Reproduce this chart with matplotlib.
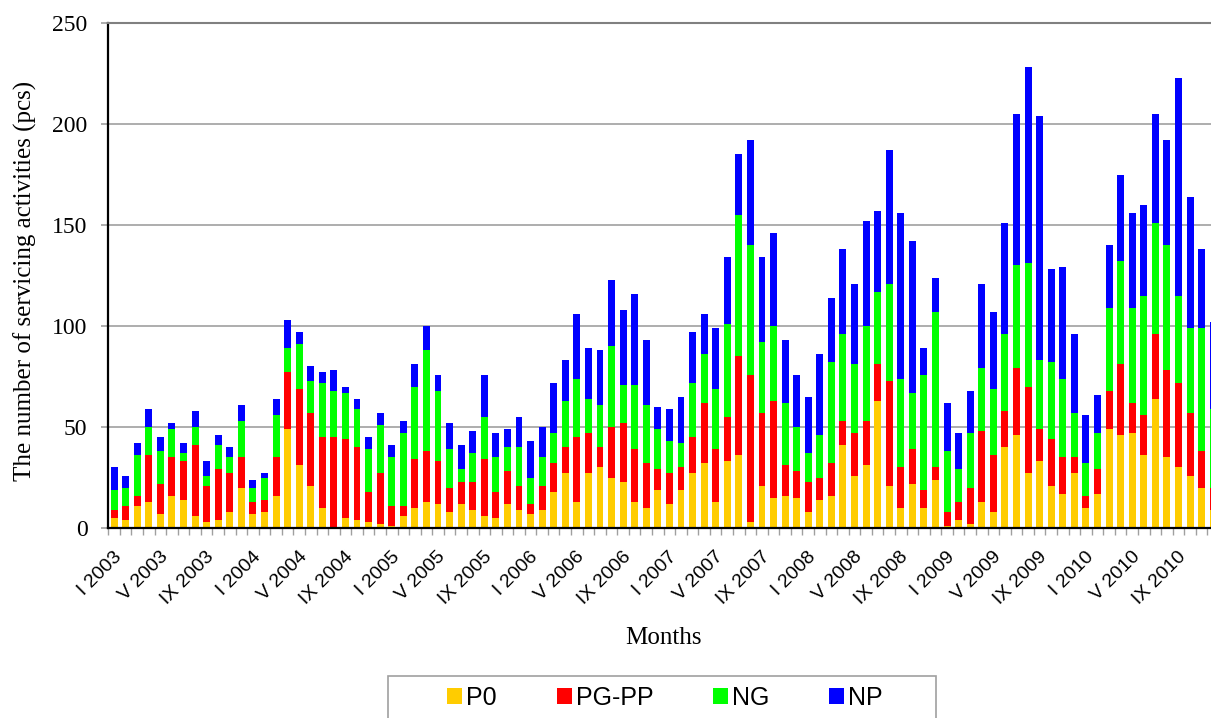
import matplotlib
matplotlib.use('Agg')
import matplotlib.pyplot as plt
from matplotlib.patches import Patch, Rectangle
from matplotlib.transforms import ScaledTranslation
import numpy as np

plt.rcParams['font.family'] = ['Liberation Serif', 'DejaVu Serif']

# ── data: monthly servicing activities, I 2003 .. XII 2010 ──
years = [2003, 2004, 2005, 2006, 2007, 2008, 2009, 2010]
roman = ['I', 'II', 'III', 'IV', 'V', 'VI', 'VII', 'VIII', 'IX', 'X', 'XI', 'XII']
month_labels = [f'{r} {y}' for y in years for r in roman]

p0 = [5, 4, 11, 13, 7, 16, 14, 6, 3, 4, 8, 20,
      7, 8, 16, 49, 31, 21, 10, 0, 5, 4, 3, 2,
      1, 6, 10, 13, 12, 8, 12, 9, 6, 5, 12, 9,
      7, 9, 18, 27, 13, 27, 30, 25, 23, 13, 10, 19,
      12, 19, 27, 32, 13, 33, 36, 3, 21, 15, 16, 15,
      8, 14, 16, 41, 26, 31, 63, 21, 10, 22, 10, 24,
      1, 4, 2, 13, 8, 40, 46, 27, 33, 21, 17, 27,
      10, 17, 49, 46, 47, 36, 64, 35, 30, 26, 20, 9]
pg_pp = [4, 7, 5, 23, 15, 19, 19, 35, 18, 25, 19, 15,
         6, 6, 19, 28, 38, 36, 35, 45, 39, 36, 15, 25,
         10, 5, 24, 25, 21, 12, 11, 14, 28, 13, 16, 12,
         5, 12, 14, 13, 32, 20, 10, 25, 29, 26, 22, 10,
         15, 11, 18, 30, 26, 22, 49, 73, 36, 48, 15, 13,
         15, 11, 16, 12, 21, 22, 18, 52, 20, 17, 9, 6,
         7, 9, 18, 35, 28, 18, 33, 43, 16, 23, 18, 8,
         6, 12, 19, 35, 15, 20, 32, 43, 42, 31, 18, 11]
ng = [10, 9, 20, 14, 16, 14, 4, 9, 5, 12, 8, 18,
      7, 11, 21, 12, 22, 16, 27, 23, 23, 19, 21, 24,
      24, 36, 36, 50, 35, 19, 6, 14, 21, 17, 12, 19,
      13, 14, 15, 23, 29, 17, 21, 40, 19, 32, 29, 20,
      16, 12, 27, 24, 30, 46, 70, 64, 35, 37, 31, 22,
      14, 21, 50, 43, 34, 47, 36, 48, 44, 28, 57, 77,
      30, 16, 27, 31, 33, 38, 51, 61, 34, 38, 39, 22,
      16, 18, 41, 51, 47, 59, 55, 62, 43, 42, 61, 39]
np_ = [11, 6, 6, 9, 7, 3, 5, 8, 7, 5, 5, 8,
       4, 2, 8, 14, 6, 7, 5, 10, 3, 5, 6, 6,
       6, 6, 11, 12, 8, 13, 12, 11, 21, 12, 9, 15,
       18, 15, 25, 20, 32, 25, 27, 33, 37, 45, 32, 11,
       16, 23, 25, 20, 30, 33, 30, 52, 42, 46, 31, 26,
       28, 40, 32, 42, 40, 52, 40, 66, 82, 75, 13, 17,
       24, 18, 21, 42, 38, 55, 75, 97, 121, 46, 55, 39,
       24, 19, 31, 43, 47, 45, 54, 52, 108, 65, 39, 43]

series = [('P0', p0, '#FFCC00'), ('PG-PP', pg_pp, '#FF0000'),
          ('NG', ng, '#00FF00'), ('NP', np_, '#0000FF')]

# ── figure ──
fig = plt.figure(figsize=(12.11, 7.18), dpi=100)
ax = fig.add_axes([0.0894, 0.2646, 0.9172, 0.7033])

x = np.arange(len(month_labels))
bottom = np.zeros(len(x))
for name, vals, color in series:
    ax.bar(x, vals, bottom=bottom, width=0.6, color=color, linewidth=0, label=name)
    bottom += np.array(vals)

ax.set_xlim(-0.5, len(x) - 0.5)
ax.set_ylim(0, 250)
ax.set_yticks(range(0, 251, 50))
ax.yaxis.grid(True, color='#a0a0a0', linewidth=1.2)
ax.set_axisbelow(True)

ax.set_xticks(x[::4])
ax.set_xticklabels(month_labels[::4], rotation=45, ha='right', va='center',
                   rotation_mode='anchor', fontsize=14, family='Liberation Sans')
ax.set_xticks(np.arange(-0.5, len(x), 1), minor=True)
ax.tick_params(axis='x', which='major', length=0, pad=14)
ax.tick_params(axis='x', which='minor', length=5, color='#a0a0a0', width=1)
ax.tick_params(axis='y', length=5, color='#a0a0a0', width=1.2, pad=10, labelsize=17)

# nudge the rotated month labels (after tick_params, which resets transforms)
shift = ScaledTranslation(5 / 100, -7 / 100, fig.dpi_scale_trans)
for lbl in ax.get_xticklabels():
    lbl.set_transform(lbl.get_transform() + shift)

for side in ['left', 'bottom']:
    ax.spines[side].set_color('black')
    ax.spines[side].set_linewidth(1.6)
ax.spines['top'].set_color('#808080')
ax.spines['top'].set_linewidth(1.5)
ax.spines['right'].set_visible(False)

ax.set_ylabel('The number of servicing activities (pcs)', fontsize=18)
ax.yaxis.set_label_coords(-0.0645, 0.49)
ax.set_xlabel('Months', fontsize=18)
ax.xaxis.set_label_coords(0.5, -0.218)
ax.xaxis.label.set_va('center')

# legend box (cut at the bottom edge like the source)
fig.patches.append(Rectangle((388 / 1211, -0.05), (936 - 388) / 1211, 0.05 + 1 - 676 / 718,
                             transform=fig.transFigure, fill=False,
                             edgecolor='#a0a0a0', linewidth=1.2))
handles = [Patch(facecolor=c, edgecolor='none') for _, _, c in series]
fig.legend(handles, [s[0] for s in series], loc='center',
           bbox_to_anchor=(665 / 1211, 1 - 698 / 718), ncol=4, frameon=False,
           prop={'family': 'Liberation Sans', 'size': 18},
           handlelength=0.6, handleheight=0.6, handletextpad=0.15, columnspacing=2.4)

fig.savefig('out.png', dpi=100)
plt.close(fig)
